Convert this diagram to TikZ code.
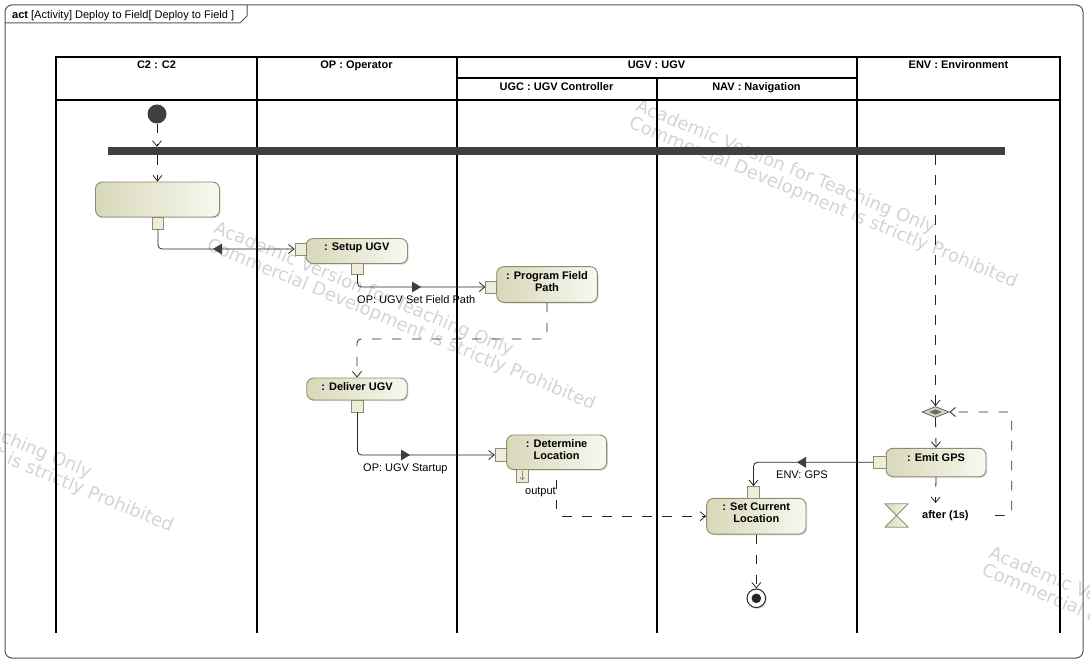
\documentclass[tikz,border=0pt]{standalone}
\usepackage{fontspec}
\setmainfont{Liberation Sans}
\newfontfamily\wmfont{DejaVu Sans}
\usetikzlibrary{arrows.meta,shapes.geometric,shadows,calc}
\definecolor{actL}{HTML}{D8D8BA}
\definecolor{actR}{HTML}{F8F8F0}
\definecolor{actB}{HTML}{8C8C6E}
\definecolor{pinF}{HTML}{EDEDDA}
\definecolor{flowC}{HTML}{262626}
\definecolor{darkF}{HTML}{3F3F3F}
\definecolor{frameC}{HTML}{555555}
\definecolor{wmC}{HTML}{D4D4D4}
\definecolor{dmOut}{HTML}{D6D6CA}
\definecolor{dmIn}{HTML}{6A6A5C}
\begin{document}
\begin{tikzpicture}[x=1pt,y=-1pt,
  txt/.style={font=\fontsize{11}{12}\selectfont, inner sep=0pt},
  btxt/.style={font=\fontsize{11}{12}\selectfont\bfseries, inner sep=0pt, align=center},
  lane/.style={line width=2pt, black},
  actbox/.style={draw=actB, line width=0.9pt, rounded corners=7pt, left color=actL, right color=actR, inner sep=0pt,
     drop shadow={shadow xshift=1.2pt, shadow yshift=-1.2pt, fill=black!30, opacity=0.5}},
  pinbox/.style={draw=actB, line width=0.8pt, fill=pinF, inner sep=0pt, minimum width=11.5pt, minimum height=12pt},
  cflow/.style={flowC, line width=0.8pt, dash pattern=on 9.5pt off 10.5pt, rounded corners=4pt, -{Straight Barb[length=5.5pt,width=9pt]}},
  oflow/.style={flowC, line width=0.8pt, rounded corners=4pt, -{Straight Barb[length=5.5pt,width=9pt]}},
  dirtri/.style={fill=darkF},
  wm/.style={text=wmC, font=\wmfont\fontsize{18}{17}\selectfont, align=left, inner sep=0pt, anchor=north west, rotate=-22.5}
]
\useasboundingbox (0,0) rectangle (1090,663);

% watermarks
\node[wm] (wm1) at (640,97.7) {Academic Version for Teaching Only\\Commercial Development is strictly Prohibited};
\node[wm] (wm2) at (218,219.7) {Academic Version for Teaching Only\\Commercial Development is strictly Prohibited};
\node[wm] (wm3) at (-204,342) {Academic Version for Teaching Only\\Commercial Development is strictly Prohibited};
\node[wm] (wm4) at (993,545) {Academic Version for Teaching Only\\Commercial Development is strictly Prohibited};

% frame
\draw[frameC, line width=1pt, rounded corners=7pt] (5,5) rectangle (1083,658);
\draw[frameC, line width=1pt] (5,23) -- (240,23) -- (247,16) -- (247,5);
\node[txt, anchor=base west] (title) at (12,18.5) {\textbf{act} [Activity] Deploy to Field[ Deploy to Field ]};

% swimlanes
\draw[lane] (56,633) -- (56,57) -- (1060,57) -- (1060,633);
\draw[lane] (56,100) -- (1060,100);
\draw[lane] (456.5,78) -- (857,78);
\foreach \x in {256.5,456.5,857} \draw[lane] (\x,57) -- (\x,633);
\draw[lane] (656.5,78) -- (656.5,633);
\node[btxt, anchor=base] (hC2) at (156.5,69) {C2 : C2};
\node[btxt, anchor=base] (hOP) at (356.5,69) {OP : Operator};
\node[btxt, anchor=base] (hUGV) at (656.5,69) {UGV : UGV};
\node[btxt, anchor=base] (hUGC) at (556.5,91) {UGC : UGV Controller};
\node[btxt, anchor=base] (hNAV) at (756.5,91) {NAV : Navigation};
\node[btxt, anchor=base] (hENV) at (958.5,69) {ENV : Environment};

% nodes
\node[circle, fill=darkF, minimum size=19pt, inner sep=0pt] (init) at (157,114) {};
\node[fill=darkF, minimum width=897pt, minimum height=8pt, inner sep=0pt] (fork) at (556.5,151) {};

\node[actbox, minimum width=124pt, minimum height=35pt] (a0) at (157.5,199.5) {};
\node[pinbox] (p0) at (158,223) {};

\node[actbox, minimum width=101.5pt, minimum height=25pt] (sU) at (356.75,251) {};
\node[pinbox, minimum width=11pt] (sUi) at (300.5,249) {};
\node[pinbox, minimum height=11pt] (sUo) at (357.5,269) {};
\node[btxt, anchor=north, yshift=-5pt] (sUt) at (sU.north) {: Setup UGV};

\node[actbox, minimum width=100.6pt, minimum height=35.6pt] (pf) at (547,284.5) {};
\node[pinbox, minimum width=11pt] (pfi) at (491.3,287) {};
\node[btxt, anchor=north, yshift=-5pt] (pft) at (pf.north) {: Program Field\\Path};

\node[actbox, minimum width=100.5pt, minimum height=22pt] (dU) at (357,389) {};
\node[pinbox] (dUo) at (357.5,406) {};
\node[btxt, anchor=north, yshift=-5pt] (dUt) at (dU.north) {: Deliver UGV};

\node[actbox, minimum width=100pt, minimum height=34.5pt] (dL) at (556.6,452.2) {};
\node[pinbox, minimum width=11pt, minimum height=13pt] (dLi) at (500.7,455) {};
\node[pinbox, minimum height=12.5pt] (dLo) at (522.3,475.7) {};
\node[btxt, anchor=north, yshift=-5pt] (dLt) at (dL.north) {: Determine\\Location};
\draw[actB, line width=0.7pt, -{Straight Barb[length=2.5pt,width=4.5pt]}] ($(dLo.north)+(0,1.5)$) -- ($(dLo.south)+(0,-2)$);

\node[actbox, minimum width=99.3pt, minimum height=35.7pt] (sC) at (756.3,516.2) {};
\node[pinbox] (sCi) at (753.5,492.5) {};
\node[btxt, anchor=north, yshift=-5pt] (sCt) at (sC.north) {: Set Current\\Location};

\node[actbox, minimum width=100pt, minimum height=28.4pt] (eG) at (936,462.5) {};
\node[pinbox, minimum width=12.5pt] (eGi) at (879.7,462.3) {};
\node[btxt, anchor=north, yshift=-5pt] (eGt) at (eG.north) {: Emit GPS};

\node[diamond, draw=actB!70!black, fill=dmOut, line width=0.8pt, minimum width=27pt, minimum height=11pt, inner sep=0pt] (dm) at (935.5,412) {};
\node[diamond, fill=dmIn, minimum width=13pt, minimum height=5.5pt, inner sep=0pt] (dmi) at (dm.center) {};

\node[minimum width=23pt, minimum height=23pt, inner sep=0pt] (tm) at (896.5,515.5) {};
\draw[draw=actB, left color=actL, right color=actR, line width=0.8pt, line join=round] (tm.north west) -- (tm.north east) -- (tm.south west) -- (tm.south east) -- cycle;
\node[btxt, anchor=base west] (tmL) at (922,518) {after (1s)};

\node[circle, draw=flowC, fill=white, line width=1pt, minimum size=18.6pt, inner sep=0pt,
  drop shadow={shadow xshift=1.2pt, shadow yshift=-1.2pt, fill=black!30, opacity=0.5}] (fin) at (756.3,598.3) {};
\fill[flowC] (fin.center) circle[radius=4.8pt];

% flow labels
\node[txt, anchor=base west] (l1) at (357,303.5) {OP: UGV Set Field Path};
\node[txt, anchor=base west] (l2) at (363,471) {OP: UGV Startup};
\node[txt, anchor=base west] (l3) at (776,478) {ENV: GPS};
\node[txt, anchor=base west] (l4) at (525,494) {output};

% connectors
\draw[cflow] (init) -- (init |- fork.north);
\draw[cflow] (a0.north |- fork.south) -- (a0.north);
\draw[oflow] (p0.south) |- (sUi.west);
\draw[oflow] (sUo.south) |- (pfi.west);
\coordinate (k1) at (547,339);
\draw[cflow] (pf.south) -- (k1) -| (dU.north);
\draw[oflow] (dUo.south) |- (dLi.west);
\draw[cflow, dash phase=10pt] (dL.south) |- (sC.west);
\draw[oflow] (eGi.west) -| (sCi.north);
\draw[cflow] (dm.north |- fork.south) -- (dm.north);
\draw[cflow] (dm.south) -- (eG.north);
\coordinate (tmIn) at (935.5,503);
\draw[cflow] (eG.south) -- (tmIn);
\coordinate (lp) at (995,515.5);
\coordinate (lpc) at (1011.7,412);
\draw[cflow] (lp) -| (lpc) -- (dm.east);
\draw[cflow] (sC.south) -- (fin.north);

% direction triangles on object flows
\fill[dirtri] (213,249) -- (222,243.5) -- (222,254.5) -- cycle;
\fill[dirtri] (421,287) -- (412,281.5) -- (412,292.5) -- cycle;
\fill[dirtri] (410,455) -- (401,449.5) -- (401,460.5) -- cycle;
\fill[dirtri] (797,462.3) -- (806,456.8) -- (806,467.8) -- cycle;
\end{tikzpicture}
\end{document}
